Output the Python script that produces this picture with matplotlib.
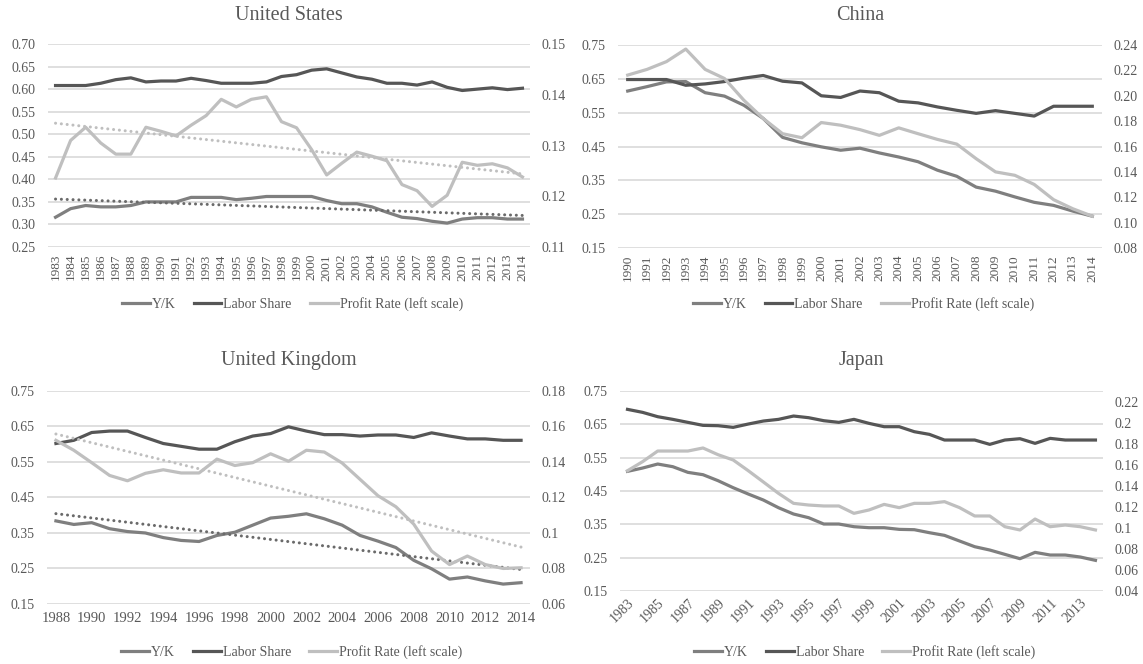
import numpy as np
import matplotlib
matplotlib.use('Agg')
import matplotlib.pyplot as plt
from matplotlib.ticker import FuncFormatter

plt.rcParams['font.family'] = ['Liberation Serif', 'DejaVu Serif']

# ---- data ----
us_years = list(range(1983, 2015))
us_yk = [0.316, 0.335, 0.342, 0.339, 0.339, 0.342, 0.350, 0.350, 0.350, 0.360, 0.360, 0.360, 0.355, 0.358, 0.362, 0.362,
         0.362, 0.362, 0.353, 0.346, 0.346, 0.339, 0.327, 0.316, 0.313, 0.307, 0.303, 0.312, 0.315, 0.315, 0.312, 0.312]
us_labor = [0.608, 0.608, 0.608, 0.613, 0.621, 0.625, 0.616, 0.618, 0.618, 0.624, 0.619, 0.613, 0.613, 0.613, 0.616, 0.628,
            0.632, 0.642, 0.645, 0.636, 0.627, 0.622, 0.613, 0.613, 0.609, 0.616, 0.604, 0.597, 0.600, 0.603, 0.599, 0.602]
us_profit = [0.1236, 0.1310, 0.1336, 0.1305, 0.1283, 0.1283, 0.1336, 0.1328, 0.1319, 0.1340, 0.1359, 0.1391, 0.1376, 0.1391, 0.1396, 0.1347,
             0.1335, 0.1292, 0.1242, 0.1265, 0.1287, 0.1279, 0.1270, 0.1223, 0.1211, 0.1180, 0.1202, 0.1267, 0.1261, 0.1264, 0.1256, 0.1238]

cn_years = list(range(1990, 2015))
cn_yk = [0.614, 0.627, 0.641, 0.642, 0.609, 0.599, 0.572, 0.533, 0.477, 0.461, 0.449, 0.439, 0.445, 0.431, 0.419, 0.405,
         0.380, 0.362, 0.330, 0.318, 0.301, 0.285, 0.276, 0.259, 0.244]
cn_labor = [0.648, 0.648, 0.648, 0.631, 0.635, 0.642, 0.652, 0.660, 0.643, 0.638, 0.600, 0.595, 0.614, 0.609, 0.584, 0.579,
            0.567, 0.557, 0.548, 0.556, 0.548, 0.540, 0.569, 0.569, 0.569]
cn_profit = [0.2163, 0.2208, 0.2269, 0.2368, 0.2208, 0.2136, 0.1965, 0.1821, 0.1701, 0.1669, 0.1789, 0.1768, 0.1733, 0.1688,
             0.1747, 0.1701, 0.1656, 0.1619, 0.1504, 0.1400, 0.1373, 0.1301, 0.1181, 0.1109, 0.1051]

uk_years = list(range(1988, 2015))
uk_yk = [0.384, 0.374, 0.379, 0.362, 0.354, 0.350, 0.337, 0.329, 0.326, 0.343, 0.352, 0.372, 0.392, 0.397, 0.404, 0.390,
         0.372, 0.343, 0.327, 0.309, 0.273, 0.249, 0.220, 0.226, 0.215, 0.206, 0.210]
uk_labor = [0.602, 0.611, 0.633, 0.637, 0.637, 0.619, 0.602, 0.594, 0.586, 0.586, 0.607, 0.623, 0.630, 0.649, 0.637, 0.627,
            0.627, 0.623, 0.626, 0.626, 0.619, 0.632, 0.623, 0.615, 0.615, 0.611, 0.611]
uk_profit = [0.1522, 0.1466, 0.1396, 0.1324, 0.1294, 0.1336, 0.1356, 0.1338, 0.1338, 0.1416, 0.1380, 0.1396, 0.1446, 0.1404,
             0.1466, 0.1456, 0.1394, 0.1302, 0.1210, 0.1148, 0.1050, 0.0898, 0.0822, 0.0870, 0.0822, 0.0800, 0.0804]

jp_years = list(range(1983, 2015))
jp_yk = [0.509, 0.519, 0.531, 0.523, 0.506, 0.499, 0.481, 0.460, 0.441, 0.423, 0.400, 0.381, 0.370, 0.351, 0.351, 0.343,
         0.340, 0.340, 0.335, 0.334, 0.325, 0.317, 0.300, 0.283, 0.273, 0.260, 0.247, 0.266, 0.258, 0.258, 0.252, 0.242]
jp_labor = [0.695, 0.686, 0.673, 0.665, 0.656, 0.647, 0.646, 0.641, 0.651, 0.660, 0.665, 0.675, 0.670, 0.661, 0.656, 0.665,
            0.653, 0.643, 0.643, 0.628, 0.620, 0.603, 0.603, 0.603, 0.590, 0.603, 0.607, 0.593, 0.608, 0.603, 0.603, 0.603]
jp_profit = [0.1543, 0.1629, 0.1730, 0.1730, 0.1730, 0.1759, 0.1695, 0.1645, 0.1543, 0.1436, 0.1328, 0.1233, 0.1217, 0.1208,
             0.1208, 0.1138, 0.1170, 0.1223, 0.1192, 0.1233, 0.1233, 0.1249, 0.1192, 0.1113, 0.1113, 0.1011, 0.0980, 0.1084,
             0.1011, 0.1027, 0.1011, 0.0980]

C_YK = '#7f7f7f'
C_LAB = '#565656'
C_PR = '#bfbfbf'
C_TXT = '#595959'
C_GRID = '#d9d9d9'
DOTS = (0, (0.01, 1.9))

fig = plt.figure(figsize=(11.43, 6.64), dpi=100)


def fmt2(v, pos):
    return '%.2f' % v


def fmtg(v, pos):
    s = '%.2f' % v
    return s[:-1] if s.endswith('0') else s


def panel(rect, title, years, yk, labor, profit, lylim, lstep, rylim, rticks, rfmt,
          xticks, xrot, trend, title_y, legend_y):
    ax = fig.add_axes(rect)
    ax2 = ax.twinx()
    ax.set_zorder(ax2.get_zorder() - 1)
    ax2.patch.set_visible(False)

    ax.set_ylim(*lylim)
    ax.set_yticks(np.arange(lylim[0], lylim[1] + 1e-9, lstep))
    ax.yaxis.set_major_formatter(FuncFormatter(fmt2))
    ax.grid(axis='y', color=C_GRID, lw=1.2)
    ax.set_axisbelow(True)
    ax2.set_ylim(*rylim)
    ax2.set_yticks(rticks)
    ax2.yaxis.set_major_formatter(FuncFormatter(rfmt))
    ax.set_xlim(years[0] - 0.5, years[-1] + 0.5)

    for a in (ax, ax2):
        for s in a.spines.values():
            s.set_visible(False)
        a.tick_params(length=0, colors=C_TXT, labelsize=10)
    ax.tick_params(axis='y', pad=9)
    ax2.tick_params(axis='y', pad=8)

    l1, = ax.plot(years, yk, color=C_YK, lw=2.3, solid_joinstyle='round', label='Y/K')
    l2, = ax.plot(years, labor, color=C_LAB, lw=2.3, solid_joinstyle='round', label='Labor Share')
    l3, = ax2.plot(years, profit, color=C_PR, lw=2.3, solid_joinstyle='round', label='Profit Rate (left scale)')

    if trend:
        yr = np.array(years, dtype=float)
        p = np.polyfit(yr, yk, 1)
        ax.plot(yr, np.polyval(p, yr), color='#6a6a6a', lw=2.2, ls=DOTS, dash_capstyle='round')
        p2 = np.polyfit(yr, profit, 1)
        ax2.plot(yr, np.polyval(p2, yr), color=C_PR, lw=2.2, ls=DOTS, dash_capstyle='round')

    ax.set_xticks(xticks)
    if xrot == 90:
        ax.set_xticklabels([str(y) for y in xticks], rotation=90, fontsize=9.5)
        ax.tick_params(axis='x', pad=5)
    elif xrot == 45:
        ax.set_xticklabels([str(y) for y in xticks], rotation=45, ha='right',
                           rotation_mode='anchor', fontsize=10)
        ax.tick_params(axis='x', pad=4)
    else:
        ax.set_xticklabels([str(y) for y in xticks], fontsize=10.5)
        ax.tick_params(axis='x', pad=6)

    cx = rect[0] + rect[2] / 2
    fig.text(cx, title_y, title, ha='center', va='center', fontsize=14.5, color=C_TXT)
    fig.legend(handles=[l1, l2, l3], loc='center', bbox_to_anchor=(cx + 0.003, legend_y), ncol=3,
               frameon=False, fontsize=10, handlelength=2.0, handletextpad=0.15,
               columnspacing=1.3, labelcolor=C_TXT)
    return ax


panel([0.042, 0.628, 0.4217, 0.3057], 'United States', us_years, us_yk, us_labor, us_profit,
      (0.25, 0.70), 0.05, (0.11, 0.15), [0.11, 0.12, 0.13, 0.14, 0.15], fmt2,
      us_years, 90, True, 1 - 16 / 664, 1 - 304 / 664)

panel([0.5407, 0.6265, 0.4234, 0.3057], 'China', cn_years, cn_yk, cn_labor, cn_profit,
      (0.15, 0.75), 0.10, (0.08, 0.24), [0.08, 0.10, 0.12, 0.14, 0.16, 0.18, 0.20, 0.22, 0.24], fmt2,
      cn_years, 90, False, 1 - 16 / 664, 1 - 304 / 664)

panel([0.0411, 0.0904, 0.4226, 0.3208], 'United Kingdom', uk_years, uk_yk, uk_labor, uk_profit,
      (0.15, 0.75), 0.10, (0.06, 0.18), [0.06, 0.08, 0.10, 0.12, 0.14, 0.16, 0.18], fmtg,
      uk_years[::2], 0, True, 1 - 360 / 664, 1 - 652 / 664)

panel([0.5424, 0.1099, 0.4226, 0.3012], 'Japan', jp_years, jp_yk, jp_labor, jp_profit,
      (0.15, 0.75), 0.10, (0.04, 0.23), [0.04, 0.06, 0.08, 0.10, 0.12, 0.14, 0.16, 0.18, 0.20, 0.22], fmtg,
      jp_years[::2], 45, False, 1 - 360 / 664, 1 - 652 / 664)

fig.savefig('out.png', dpi=100)
